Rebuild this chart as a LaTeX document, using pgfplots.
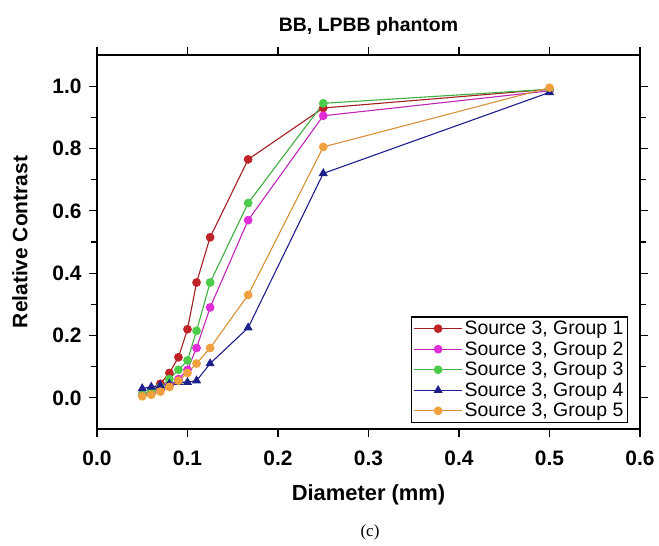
\documentclass[border=0pt]{standalone}
\usepackage{pgfplots}
\pgfplotsset{compat=1.18}
\usepackage{fontspec}
\setmainfont{Liberation Sans}
\newfontfamily\serifc{Liberation Serif}
\definecolor{c1}{RGB}{190,35,40}
\definecolor{c2}{RGB}{225,45,215}
\definecolor{c3}{RGB}{75,205,75}
\definecolor{c4}{RGB}{30,30,140}
\definecolor{c5}{RGB}{240,160,60}
\begin{document}
\begin{tikzpicture}
\useasboundingbox (-97bp,-117bp) rectangle (562bp,429bp);
\begin{axis}[
  scale only axis, width=543bp, height=374bp,
  xmin=0, xmax=0.6, ymin=-0.1, ymax=1.1,
  xtick={0,0.1,...,0.6}, ytick={0,0.2,...,1.0},
  minor y tick num=1,
  tick align=outside, major tick length=8bp, minor tick length=6bp,
  every tick/.style={black, line width=1.2bp},
  axis line style={line width=1.5bp},
  xticklabel style={yshift=-10bp, /pgf/number format/.cd, fixed, fixed zerofill, precision=1},
  yticklabel style={xshift=-4bp, /pgf/number format/.cd, fixed, fixed zerofill, precision=1},
  /pgf/number format/assume math mode=true,
  ticklabel style={font=\fontsize{21}{23}\selectfont\bfseries},
  title={BB, LPBB phantom},
  title style={font=\fontsize{19.5}{22}\selectfont\bfseries, at={(axis description cs:0.5,1.059)}, anchor=center},
  xlabel={Diameter (mm)},
  xlabel style={font=\fontsize{22}{24}\selectfont\bfseries, at={(axis description cs:0.5,-0.1765)}, anchor=center},
  ylabel={Relative Contrast},
  ylabel style={font=\fontsize{21}{23}\selectfont\bfseries, at={(axis description cs:-0.142,0.5)}, anchor=center},
  legend style={at={(axis description cs:0.978,0.016)}, anchor=south east,
    font=\fontsize{19.5}{21}\selectfont, draw=black, line width=1.3bp,
    row sep=1.5bp, inner sep=2bp},
  legend cell align=left,
  legend image code/.code={\draw[mark repeat=2,mark phase=2,#1] plot coordinates {(0bp,0bp) (24bp,0bp) (48bp,0bp)};},
  every axis plot/.append style={line width=1.1bp, mark size=3.8bp},
]
\addplot[c1!85!black, mark=*, mark options={fill=c1, draw=c1}] coordinates {
(0.05,0.01) (0.06,0.02) (0.07,0.045) (0.08,0.08) (0.09,0.13) (0.10,0.22) (0.11,0.37) (0.125,0.515) (0.167,0.765) (0.25,0.93) (0.5,0.99)};
\addlegendentry{Source 3, Group 1}
\addplot[c2!85!black, mark=*, mark options={fill=c2, draw=c2}] coordinates {
(0.05,0.01) (0.06,0.015) (0.07,0.025) (0.08,0.04) (0.09,0.06) (0.10,0.09) (0.11,0.16) (0.125,0.29) (0.167,0.57) (0.25,0.905) (0.5,0.985)};
\addlegendentry{Source 3, Group 2}
\addplot[c3!85!black, mark=*, mark options={fill=c3, draw=c3}] coordinates {
(0.05,0.01) (0.06,0.02) (0.07,0.035) (0.08,0.06) (0.09,0.09) (0.10,0.12) (0.11,0.215) (0.125,0.37) (0.167,0.625) (0.25,0.945) (0.5,0.99)};
\addlegendentry{Source 3, Group 3}
\addplot[c4, mark=triangle*, mark size=4.2bp, mark options={fill=c4, draw=c4}] coordinates {
(0.05,0.03) (0.06,0.035) (0.07,0.04) (0.08,0.045) (0.09,0.05) (0.10,0.05) (0.11,0.055) (0.125,0.11) (0.167,0.225) (0.25,0.72) (0.5,0.98)};
\addlegendentry{Source 3, Group 4}
\addplot[c5!90!black, mark=*, mark options={fill=c5, draw=c5}] coordinates {
(0.05,0.005) (0.06,0.01) (0.07,0.02) (0.08,0.035) (0.09,0.055) (0.10,0.08) (0.11,0.11) (0.125,0.16) (0.167,0.33) (0.25,0.805) (0.5,0.995)};
\addlegendentry{Source 3, Group 5}
\end{axis}
\node[font=\serifc\fontsize{17}{19}\selectfont] at (273bp,-103bp) {(c)};
\end{tikzpicture}
\end{document}
